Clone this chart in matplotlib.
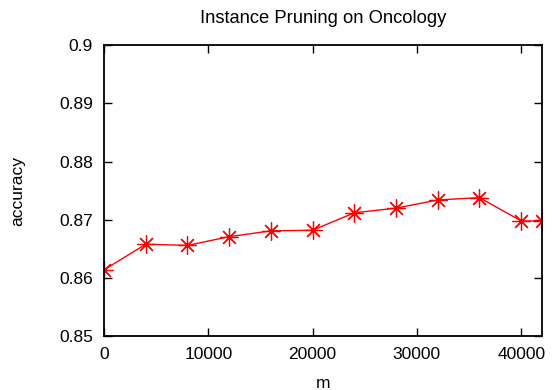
import numpy as np
import matplotlib.pyplot as plt

plt.rcParams['font.family'] = ['Liberation Sans', 'DejaVu Sans']

m_values = [0, 4000, 8000, 12000, 16000, 20000, 24000, 28000, 32000, 36000, 40000, 42000]
accuracy = [0.8614, 0.8658, 0.8656, 0.8671, 0.8681, 0.8682, 0.8712, 0.8720, 0.8734, 0.8738, 0.8698, 0.8698]

fig = plt.figure(figsize=(5.52, 3.9), dpi=100)
ax = fig.add_axes([0.1884, 0.1377, 0.7936, 0.7469])

ax.plot(m_values, accuracy, color='red', linewidth=1.0,
		marker=(8, 2, 0), markersize=13, markeredgewidth=0.9, markeredgecolor='red')

ax.set_xlim(0, 42000)
ax.set_ylim(0.85, 0.9)
ax.set_xticks([0, 10000, 20000, 30000, 40000])
ax.set_yticks([0.85, 0.86, 0.87, 0.88, 0.89, 0.9])
ax.set_yticklabels(['0.85', '0.86', '0.87', '0.88', '0.89', '0.9'])
ax.tick_params(direction='in', length=6, width=1, labelsize=12.5, top=True, right=True, pad=8)
for s in ax.spines.values():
	s.set_linewidth(1.3)

ax.set_xlabel("m", fontsize=12.5, labelpad=10)
ax.set_ylabel("accuracy", fontsize=12.5, labelpad=24)
ax.set_title("Instance Pruning on Oncology", fontsize=13.2, pad=16)

fig.savefig("out.png", dpi=100)
plt.close()
